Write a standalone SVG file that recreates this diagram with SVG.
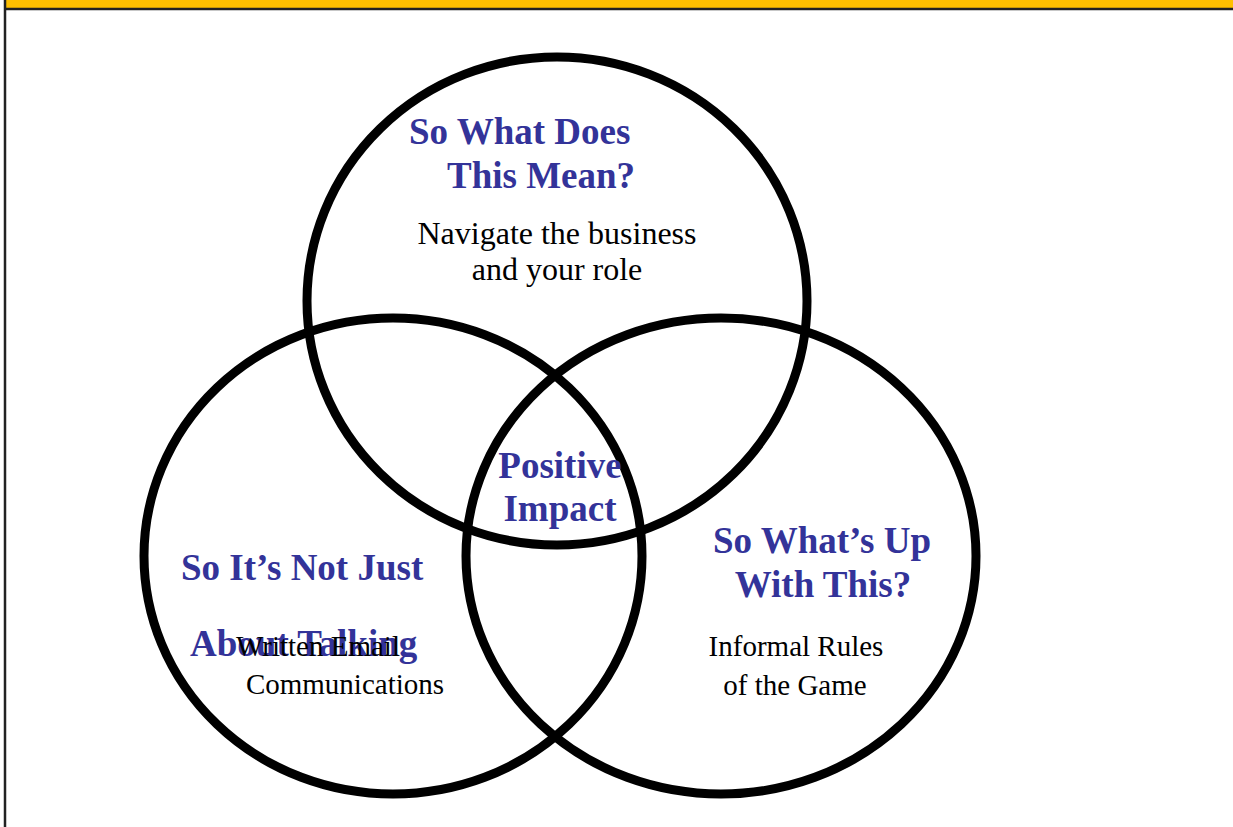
<svg xmlns="http://www.w3.org/2000/svg" width="1233" height="827" viewBox="0 0 1233 827">
<style>
.c{fill:none;stroke:#000;stroke-width:9}
.h{font-family:"Liberation Serif","Times New Roman",serif;font-weight:bold;font-size:37px;fill:#333399}
.b{font-family:"Liberation Serif","Times New Roman",serif;font-size:29px;fill:#000}
.m{text-anchor:middle}
</style>
<rect x="0" y="0" width="1233" height="827" fill="#fff"/>
<g id="frame">
<rect x="6" y="0" width="1227" height="9" fill="#FFC000"/>
<line x1="6" y1="9" x2="1233" y2="9" stroke="#222" stroke-width="2.5"/>
<line x1="5" y1="0" x2="5" y2="827" stroke="#222" stroke-width="2.5"/>
</g>
<g id="connectors"></g>
<g id="circle-top">
<ellipse class="c" cx="557" cy="301" rx="250" ry="244"/>
<text class="h" x="409" y="144">So What Does</text>
<text class="h" x="447" y="188">This Mean?</text>
<text class="b m" x="557" y="244" style="font-size:32px">Navigate the business</text>
<text class="b m" x="557" y="280" style="font-size:32px">and your role</text>
</g>
<g id="circle-left">
<ellipse class="c" cx="393" cy="556" rx="249" ry="238"/>
<text class="h" x="181" y="580">So It’s Not Just</text>
<text class="h" x="190" y="656">About Talking</text>
<text class="b m" x="318" y="656">Written Email</text>
<text class="b m" x="345" y="694">Communications</text>
</g>
<g id="circle-right">
<ellipse class="c" cx="721" cy="556" rx="255" ry="238"/>
<text class="h m" x="822" y="553">So What’s Up</text>
<text class="h m" x="823" y="597">With This?</text>
<text class="b m" x="796" y="656">Informal Rules</text>
<text class="b m" x="795" y="695">of the Game</text>
</g>
<g id="center">
<text class="h m" x="560" y="478">Positive</text>
<text class="h m" x="560" y="521">Impact</text>
</g>
</svg>
